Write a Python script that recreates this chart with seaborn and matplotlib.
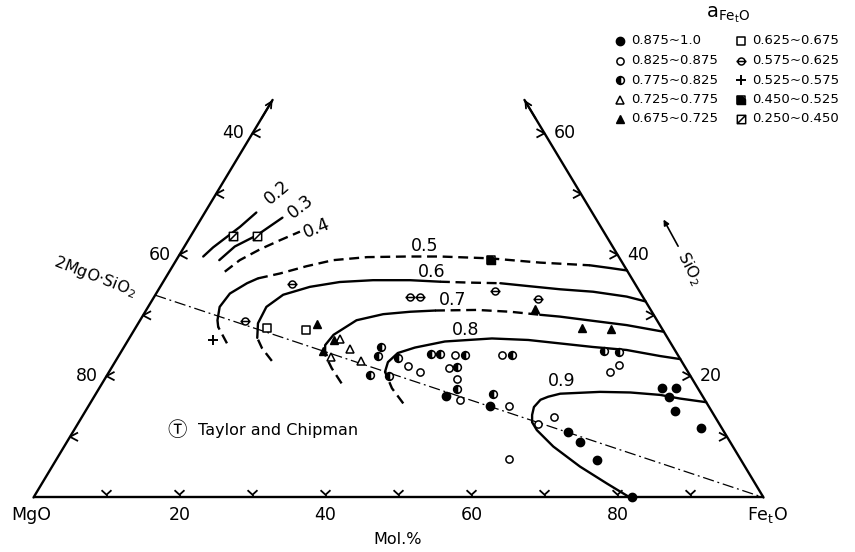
import matplotlib
matplotlib.use("Agg")
import matplotlib.pyplot as plt
from matplotlib.path import Path
import numpy as np
import pandas as pd
import seaborn as sns

sns.set_theme(style="white")
plt.rcParams["font.family"] = ["DejaVu Sans"]
plt.rcParams["mathtext.default"] = "regular"
plt.rcParams["text.color"] = "black"

# ---------------- measured compositions (FetO mol%, SiO2 mol%) ----------------
A_0875_1000_FETO = [48.1, 55.1, 67.8, 70.3, 74.1, 82.0, 77.0, 79.0, 78.8, 80.8, 85.7]
A_0875_1000_SIO2 = [16.7, 15.0, 10.8, 9.2, 6.1, 0.0, 18.1, 18.1, 16.5, 14.2, 11.5]

A_0825_0875_FETO = [40.5, 42.6, 46.2, 48.2, 46.0, 52.5, 50.4, 57.6, 63.0, 64.7, 62.0, 69.3, 68.7]
A_0825_0875_SIO2 = [21.6, 20.7, 21.3, 19.6, 23.4, 23.4, 16.1, 15.1, 12.1, 13.2, 6.3, 21.9, 20.6]

A_0775_0825_FETO = [35.2, 35.6, 36.0, 38.7, 38.4, 42.7, 43.9, 47.3, 53.8, 47.2, 49.1, 54.4, 66.0, 68.2]
A_0775_0825_SIO2 = [24.8, 23.3, 20.1, 20.0, 23.0, 23.6, 23.6, 23.5, 23.5, 21.5, 17.8, 17.1, 24.2, 23.9]

A_0725_0775_FETO = [29.0, 31.1, 29.1, 33.6]
A_0725_0775_SIO2 = [26.1, 24.5, 23.2, 22.5]

A_0675_0725_FETO = [24.5, 28.1, 27.5, 53.2, 61.2, 65.2]
A_0675_0725_SIO2 = [28.6, 26.0, 24.2, 31.1, 27.9, 27.8]

A_0625_0675_FETO = [18.0, 23.5]
A_0625_0675_SIO2 = [28.0, 27.6]

A_0575_0625_FETO = [17.8, 14.4, 35.1, 36.5, 46.2, 52.7]
A_0575_0625_SIO2 = [35.2, 29.1, 33.0, 33.0, 34.1, 32.7]

A_0525_0575_FETO = [11.6]
A_0525_0575_SIO2 = [25.9]

A_0450_0525_FETO = [43.1]
A_0450_0525_SIO2 = [39.2]

A_0250_0450_FETO = [5.8, 9.0]
A_0250_0450_SIO2 = [43.1, 43.1]

RANGE_LABELS = ["0.875~1.0", "0.825~0.875", "0.775~0.825", "0.725~0.775", "0.675~0.725",
                "0.625~0.675", "0.575~0.625", "0.525~0.575", "0.450~0.525", "0.250~0.450"]

# ---------------- iso-activity curves (FetO mol%, SiO2 mol%) ----------------
ISO_02_FETO = [3.4, 4.0, 5.0, 6.0, 7.05]
ISO_02_SIO2 = [39.7, 41.2, 42.9, 44.6, 46.95]
ISO_03_FETO = [5.9, 6.9, 9.0, 11.05]
ISO_03_SIO2 = [39.1, 41.35, 43.2, 46.1]
ISO_04_FETO = [7.6, 8.7, 10.6, 12.6, 14.6]
ISO_04_SIO2 = [37.2, 39.1, 40.9, 42.4, 43.8]
ISO_05_FETO = [13.8, 11.25, 10.6, 9.8, 10.1, 11.6, 12.7, 15.3, 18.35, 21.5, 25.9, 31.3,
               35.85, 42.85, 50.0, 57.1, 60.1, 62.6]
ISO_05_SIO2 = [25.4, 28.1, 29.2, 31.4, 33.6, 35.3, 36.1, 36.9, 38.1, 39.1, 39.6, 39.7,
               39.7, 39.4, 38.7, 38.25, 37.8, 37.4]
ISO_06_FETO = [21.4, 19.0, 17.5, 16.4, 16.2, 17.5, 20.5, 24.2, 28.6, 33.7, 37.9, 42.1,
               46.3, 50.6, 55.0, 59.7, 64.7, 67.7]
ISO_06_SIO2 = [22.5, 24.6, 26.3, 28.7, 31.4, 33.4, 34.7, 35.5, 35.8, 35.8, 35.55, 35.4,
               35.3, 34.8, 34.3, 33.9, 33.1, 32.3]
ISO_07_FETO = [32.8, 30.2, 28.2, 27.4, 27.7, 29.65, 32.8, 36.3, 39.6, 45.3, 50.0, 54.35,
               57.2, 62.1, 67.05, 72.7]
ISO_07_SIO2 = [18.8, 21.3, 23.5, 25.1, 26.8, 29.2, 30.2, 30.6, 30.8, 30.9, 30.6, 30.1,
               29.8, 29.1, 28.4, 27.3]
ISO_08_FETO = [42.9, 40.1, 37.8, 37.4, 38.0, 39.9, 43.5, 49.7, 54.8, 64.2, 69.1, 74.2, 77.2]
ISO_08_SIO2 = [15.5, 18.0, 20.7, 22.3, 23.8, 24.7, 25.7, 26.2, 25.95, 24.8, 24.3, 23.3, 22.8]
ISO_09_FETO = [81.7, 77.4, 72.3, 67.0, 63.4, 62.1, 61.5, 61.1, 61.4, 62.2, 63.6, 68.9,
               73.1, 77.4, 80.4, 84.3]
ISO_09_SIO2 = [0.0, 2.3, 5.1, 8.4, 11.1, 12.4, 13.6, 14.9, 16.1, 16.6, 17.1, 17.4,
               17.3, 16.9, 16.3, 15.7]

AXIS_TICKS = [20, 40, 60, 80]


def tern(feto, sio2):
    """Ternary composition -> plane coordinates (FetO at right, SiO2 upwards)."""
    feto = np.asarray(feto, dtype=float)
    sio2 = np.asarray(sio2, dtype=float)
    return feto + sio2 / 2.0, sio2


W, H = 855, 552
fig = plt.figure(figsize=(W / 100, H / 100), dpi=100)
ax = fig.add_axes([0, 0, 1, 1])
ax.set_xlim(-4.589, 112.53)
ax.set_ylim(-8.98, 81.96)
ax.axis("off")

LW = 1.7
DASH = (0, (4.2, 2.4))
S_TOP = 65.5

# ---------------- triangle frame ----------------
x0, y0 = tern([0, 100], [0, 0])
ax.plot(x0, y0, color="black", lw=LW, solid_capstyle="butt")
xl, yl = tern([0, 0], [0, S_TOP])
ax.plot(xl, yl, color="black", lw=LW)
xr, yr = tern([100, 100 - S_TOP], [0, S_TOP])
ax.plot(xr, yr, color="black", lw=LW)
for (fa, sa), (fb, sb) in [((0, S_TOP - 3), (0, S_TOP)),
                           ((100 - S_TOP + 3, S_TOP - 3), (100 - S_TOP, S_TOP))]:
    ax.annotate("", xy=tern(fb, sb), xytext=tern(fa, sa),
                arrowprops=dict(arrowstyle="->", lw=1.3, color="black",
                                mutation_scale=11, shrinkA=0, shrinkB=0))

# tick chevrons
TK = dict(color="black", lw=1.3, solid_capstyle="butt")
for v in range(10, 100, 10):
    ax.plot([v, v], [0, 0.45], **TK)
    ax.plot([v - 0.68, v, v + 0.68], [1.2, 0.45, 1.2], **TK)
for v in range(10, 70, 10):
    lx, ly = tern(0, v)
    ax.plot([lx + 1.1, lx, lx + 1.1], [ly + 0.7, ly, ly - 0.7], **TK)
    rx, ry = tern(100 - v, v)
    ax.plot([rx - 1.1, rx, rx - 1.1], [ry + 0.7, ry, ry - 0.7], **TK)

# tick labels
TF = 12.5
for v in AXIS_TICKS:
    ax.text(v, -2.9, str(v), ha="center", va="center", fontsize=TF)
for v in [20, 40, 60]:
    lx, ly = tern(0, v)
    ax.text(lx - 2.7, ly, str(100 - v), ha="center", va="center", fontsize=TF)
    rx, ry = tern(100 - v, v)
    ax.text(rx + 2.8, ry, str(v), ha="center", va="center", fontsize=TF)
ax.text(-0.3, -2.9, "MgO", ha="center", va="center", fontsize=TF)
ax.text(100.6, -2.9, "Fe$_{t}$O", ha="center", va="center", fontsize=TF)
ax.text(49.9, -7.0, "Mol.%", ha="center", va="center", fontsize=11.5)

# SiO2 direction marker on the right side
ax.text(89.9, 37.8, "SiO$_2$", ha="center", va="center", fontsize=11.5, rotation=-63)
ax.annotate("", xy=(86.3, 45.8), xytext=(88.3, 41.4),
            arrowprops=dict(arrowstyle="-|>", lw=1.2, color="black",
                            mutation_scale=8, shrinkA=0, shrinkB=0))

# 2MgO.SiO2 - FetO join
jx, jy = tern([0, 100], [100 / 3, 0])
ax.plot(jx, jy, color="black", lw=0.9, linestyle=(0, (9, 3, 1.5, 3)))
ax.text(8.5, 36.4, "2MgO·SiO$_2$", ha="center", va="center", fontsize=11.5, rotation=-21)

# ---------------- iso-activity curves ----------------
curves = [
    (ISO_02_FETO, ISO_02_SIO2, [(0, 4, "-")]),
    (ISO_03_FETO, ISO_03_SIO2, [(0, 3, "-")]),
    (ISO_04_FETO, ISO_04_SIO2, [(0, 4, "--")]),
    (ISO_05_FETO, ISO_05_SIO2, [(0, 1, "--"), (1, 6, "-"), (6, 15, "--"), (15, 17, "-")]),
    (ISO_06_FETO, ISO_06_SIO2, [(0, 2, "--"), (2, 10, "-"), (10, 12, "--"), (12, 17, "-")]),
    (ISO_07_FETO, ISO_07_SIO2, [(0, 2, "--"), (2, 8, "-"), (8, 11, "--"), (11, 15, "-")]),
    (ISO_08_FETO, ISO_08_SIO2, [(0, 2, "--"), (2, 12, "-")]),
    (ISO_09_FETO, ISO_09_SIO2, [(0, 15, "-")]),
]
for fe, si, parts in curves:
    cx, cy = tern(fe, si)
    for a, b, st in parts:
        seg = pd.DataFrame({"x": cx[a:b + 1], "y": cy[a:b + 1]})
        sns.lineplot(data=seg, x="x", y="y", sort=False, estimator=None, ax=ax,
                     color="black", lw=LW, linestyle=DASH if st == "--" else "-",
                     legend=False, zorder=2)

CF = 12.5
for lab, f, s, rot in [("0.9", 62.8, 19.2, 0), ("0.8", 45.45, 27.6, 0), ("0.7", 41.1, 32.5, 0),
                       ("0.6", 36.0, 37.15, 0), ("0.5", 32.9, 41.4, 0),
                       ("0.4", 16.6, 44.4, 22), ("0.3", 12.6, 47.9, 38), ("0.2", 8.2, 50.3, 40)]:
    tx, ty = tern(f, s)
    ax.text(tx, ty, lab, ha="center", va="center", fontsize=CF, rotation=rot)

ax.text(18.4, 11.0, "Ⓣ", ha="left", va="center", fontsize=14,
        family=["Noto Sans CJK JP", "DejaVu Sans"])
ax.text(22.5, 11.0, "Taylor and Chipman", ha="left", va="center", fontsize=11.5)

# ---------------- marker styles ----------------
circ = Path.unit_circle()
bar = Path([(-1.45, 0), (1.45, 0)], [Path.MOVETO, Path.LINETO])
M_THETA = Path.make_compound_path(circ, bar)
sq = Path([(-1, -1), (1, -1), (1, 1), (-1, 1), (-1, -1)],
          [Path.MOVETO, Path.LINETO, Path.LINETO, Path.LINETO, Path.CLOSEPOLY])
M_SQUARE = sq
M_SQ_DIAG = Path.make_compound_path(sq, Path([(-1, -1), (1, 1)], [Path.MOVETO, Path.LINETO]))
M_LL_TRI = Path([(-1, -1), (1, -1), (1, 0.2), (0.2, 1), (-1, 1), (-1, -1)],
                [Path.MOVETO, Path.LINETO, Path.LINETO, Path.LINETO, Path.LINETO,
                 Path.CLOSEPOLY])

STYLES = [
    [dict(marker="o", ms=6.0, mfc="black", mec="black", mew=1.0)],
    [dict(marker="o", ms=5.2, mfc="white", mec="black", mew=1.1)],
    [dict(marker="o", ms=5.6, mfc="black", mec="black", mew=1.1,
          fillstyle="left", markerfacecoloralt="white")],
    [dict(marker="^", ms=5.6, mfc="white", mec="black", mew=1.1)],
    [dict(marker="^", ms=6.0, mfc="black", mec="black", mew=1.0)],
    [dict(marker=M_SQUARE, ms=6.0, mfc="white", mec="black", mew=1.1)],
    [dict(marker=M_THETA, ms=7.3, mfc="white", mec="black", mew=1.1)],
    [dict(marker="+", ms=7.5, mec="black", mew=1.4)],
    [dict(marker=M_SQUARE, ms=6.0, mfc="white", mec="black", mew=1.1),
     dict(marker=M_LL_TRI, ms=6.0, mfc="black", mec="black", mew=0.8)],
    [dict(marker=M_SQ_DIAG, ms=6.0, mfc="white", mec="black", mew=1.1)],
]
GROUPS = [
    (A_0875_1000_FETO, A_0875_1000_SIO2), (A_0825_0875_FETO, A_0825_0875_SIO2),
    (A_0775_0825_FETO, A_0775_0825_SIO2), (A_0725_0775_FETO, A_0725_0775_SIO2),
    (A_0675_0725_FETO, A_0675_0725_SIO2), (A_0625_0675_FETO, A_0625_0675_SIO2),
    (A_0575_0625_FETO, A_0575_0625_SIO2), (A_0525_0575_FETO, A_0525_0575_SIO2),
    (A_0450_0525_FETO, A_0450_0525_SIO2), (A_0250_0450_FETO, A_0250_0450_SIO2),
]
for (fe, si), layers in zip(GROUPS, STYLES):
    px, py = tern(fe, si)
    for st in layers:
        ax.plot(px, py, linestyle="none", zorder=4, clip_on=False, **st)

# ---------------- legend (drawn in pixel space) ----------------
def pix(x, y):
    return x / W, 1 - y / H

ax.text(*pix(728, 15), r"$\mathregular{a_{Fe_tO}}$", transform=fig.transFigure,
        ha="center", va="center", fontsize=14)
ROWS = [41, 60.5, 80, 99.5, 119]
for i, (lab, layers) in enumerate(zip(RANGE_LABELS, STYLES)):
    col, row = divmod(i, 5)
    mx = 620 if col == 0 else 741
    tx = 631 if col == 0 else 752
    y = ROWS[row]
    for st in layers:
        ax.plot([pix(mx, y)[0]], [pix(mx, y)[1]], linestyle="none",
                transform=fig.transFigure, clip_on=False, **st)
    ax.text(*pix(tx, y), lab, transform=fig.transFigure, ha="left", va="center",
            fontsize=9.5)

fig.savefig("out.png", dpi=100, facecolor="white")
